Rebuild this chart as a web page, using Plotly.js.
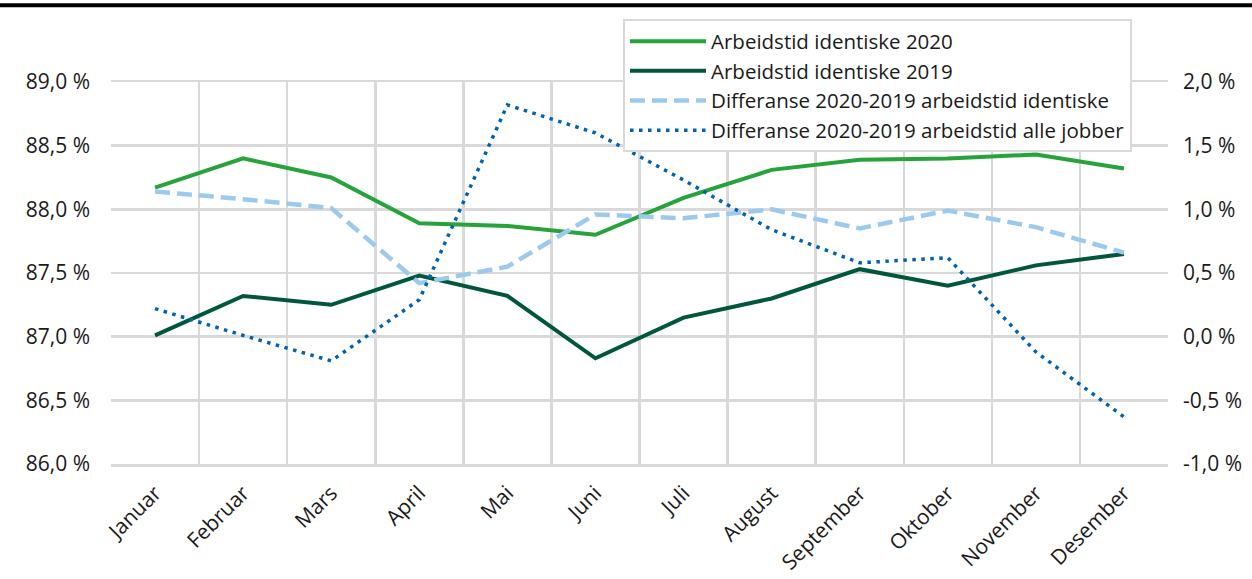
<!DOCTYPE html>
<html lang="no">
<head>
  <meta charset="UTF-8" />
  <title>Arbeidstid identiske jobber 2019-2020</title>
  <script src="https://cdn.plot.ly/plotly-3.0.1.min.js"></script>
  <style>
    body { margin: 0; background: #fff; }
    #chart { width: 1252px; height: 579px; }
  </style>
</head>
<body>
  <div id="chart"></div>
<script>
  // months on the x axis
  const months = ['Januar', 'Februar', 'Mars', 'April', 'Mai', 'Juni', 'Juli',
                  'August', 'September', 'Oktober', 'November', 'Desember'];

  // left axis, percent
  const arbeidstid2020 = [88.17, 88.40, 88.25, 87.89, 87.87, 87.80, 88.09, 88.31, 88.39, 88.40, 88.43, 88.32];
  const arbeidstid2019 = [87.01, 87.32, 87.25, 87.48, 87.32, 86.83, 87.15, 87.30, 87.53, 87.40, 87.56, 87.65];

  // right axis, percentage points
  const diffIdentiske = [1.14, 1.08, 1.01, 0.42, 0.55, 0.96, 0.93, 1.00, 0.85, 0.99, 0.86, 0.66];
  const diffAlleJobber = [0.22, 0.01, -0.19, 0.29, 1.82, 1.60, 1.23, 0.84, 0.58, 0.62, -0.12, -0.63];

  const leftTicks = [86.0, 86.5, 87.0, 87.5, 88.0, 88.5, 89.0];
  const leftTickText = ['86,0 %', '86,5 %', '87,0 %', '87,5 %', '88,0 %', '88,5 %', '89,0 %'];
  const rightTicks = [-1.0, -0.5, 0.0, 0.5, 1.0, 1.5, 2.0];
  const rightTickText = ['-1,0 %', '-0,5 %', '0,0 %', '0,5 %', '1,0 %', '1,5 %', '2,0 %'];

  const font = { family: '"Open Sans", "Noto Sans", sans-serif', size: 21, color: '#1a1a1a' };
  const legendFont = { family: font.family, size: 20.5, color: font.color };
  const gridColor = '#d9d9d9';

  const traces = [
    {
      x: months, y: arbeidstid2020, name: 'Arbeidstid identiske 2020',
      type: 'scatter', mode: 'lines',
      line: { color: '#26a33a', width: 4 }
    },
    {
      x: months, y: arbeidstid2019, name: 'Arbeidstid identiske 2019',
      type: 'scatter', mode: 'lines',
      line: { color: '#00573d', width: 4 }
    },
    {
      x: months, y: diffIdentiske, name: 'Differanse 2020-2019 arbeidstid identiske',
      type: 'scatter', mode: 'lines', yaxis: 'y2',
      line: { color: '#9ccaee', width: 4.5, dash: '15px,7px' }
    },
    {
      x: months, y: diffAlleJobber, name: 'Differanse 2020-2019 arbeidstid alle jobber',
      type: 'scatter', mode: 'lines', yaxis: 'y2',
      line: { color: '#0062b1', width: 3.5, dash: '3.5px,5.5px' }
    }
  ];

  const layout = {
    width: 1252,
    height: 579,
    margin: { l: 111, r: 84, t: 82, b: 115 },
    paper_bgcolor: '#fff',
    plot_bgcolor: '#fff',
    font: font,
    showlegend: true,
    legend: {
      x: 0.4844, y: 1.164, xanchor: 'left', yanchor: 'top',
      bgcolor: '#fff', bordercolor: gridColor, borderwidth: 2,
      itemwidth: 76, tracegroupgap: 0,
      font: legendFont
    },
    xaxis: {
      type: 'category',
      range: [-0.5, 11.5],
      tickson: 'boundaries',
      showgrid: true, gridcolor: gridColor, gridwidth: 2.5,
      showline: true, linecolor: gridColor, linewidth: 2.5, mirror: true,
      ticks: '', tickangle: -45, ticklabelstandoff: 6,
      tickfont: font,
      zeroline: false
    },
    yaxis: {
      range: [86, 89],
      tickvals: leftTicks, ticktext: leftTickText,
      showgrid: true, gridcolor: gridColor, gridwidth: 2.5,
      zeroline: false, ticks: '', ticklabelstandoff: 20,
      tickfont: font
    },
    yaxis2: {
      overlaying: 'y', side: 'right',
      range: [-1, 2],
      tickvals: rightTicks, ticktext: rightTickText,
      showgrid: false, zeroline: false, ticks: '', ticklabelstandoff: 14,
      tickfont: font
    },
    shapes: [
      {
        type: 'line', xref: 'paper', yref: 'paper',
        x0: -0.106, x1: 1.08, y0: 1.2006, y1: 1.2006,
        line: { color: '#000', width: 4 }
      }
    ]
  };

  Plotly.newPlot('chart', traces, layout, { displayModeBar: false, staticPlot: true });
</script>
</body>
</html>
